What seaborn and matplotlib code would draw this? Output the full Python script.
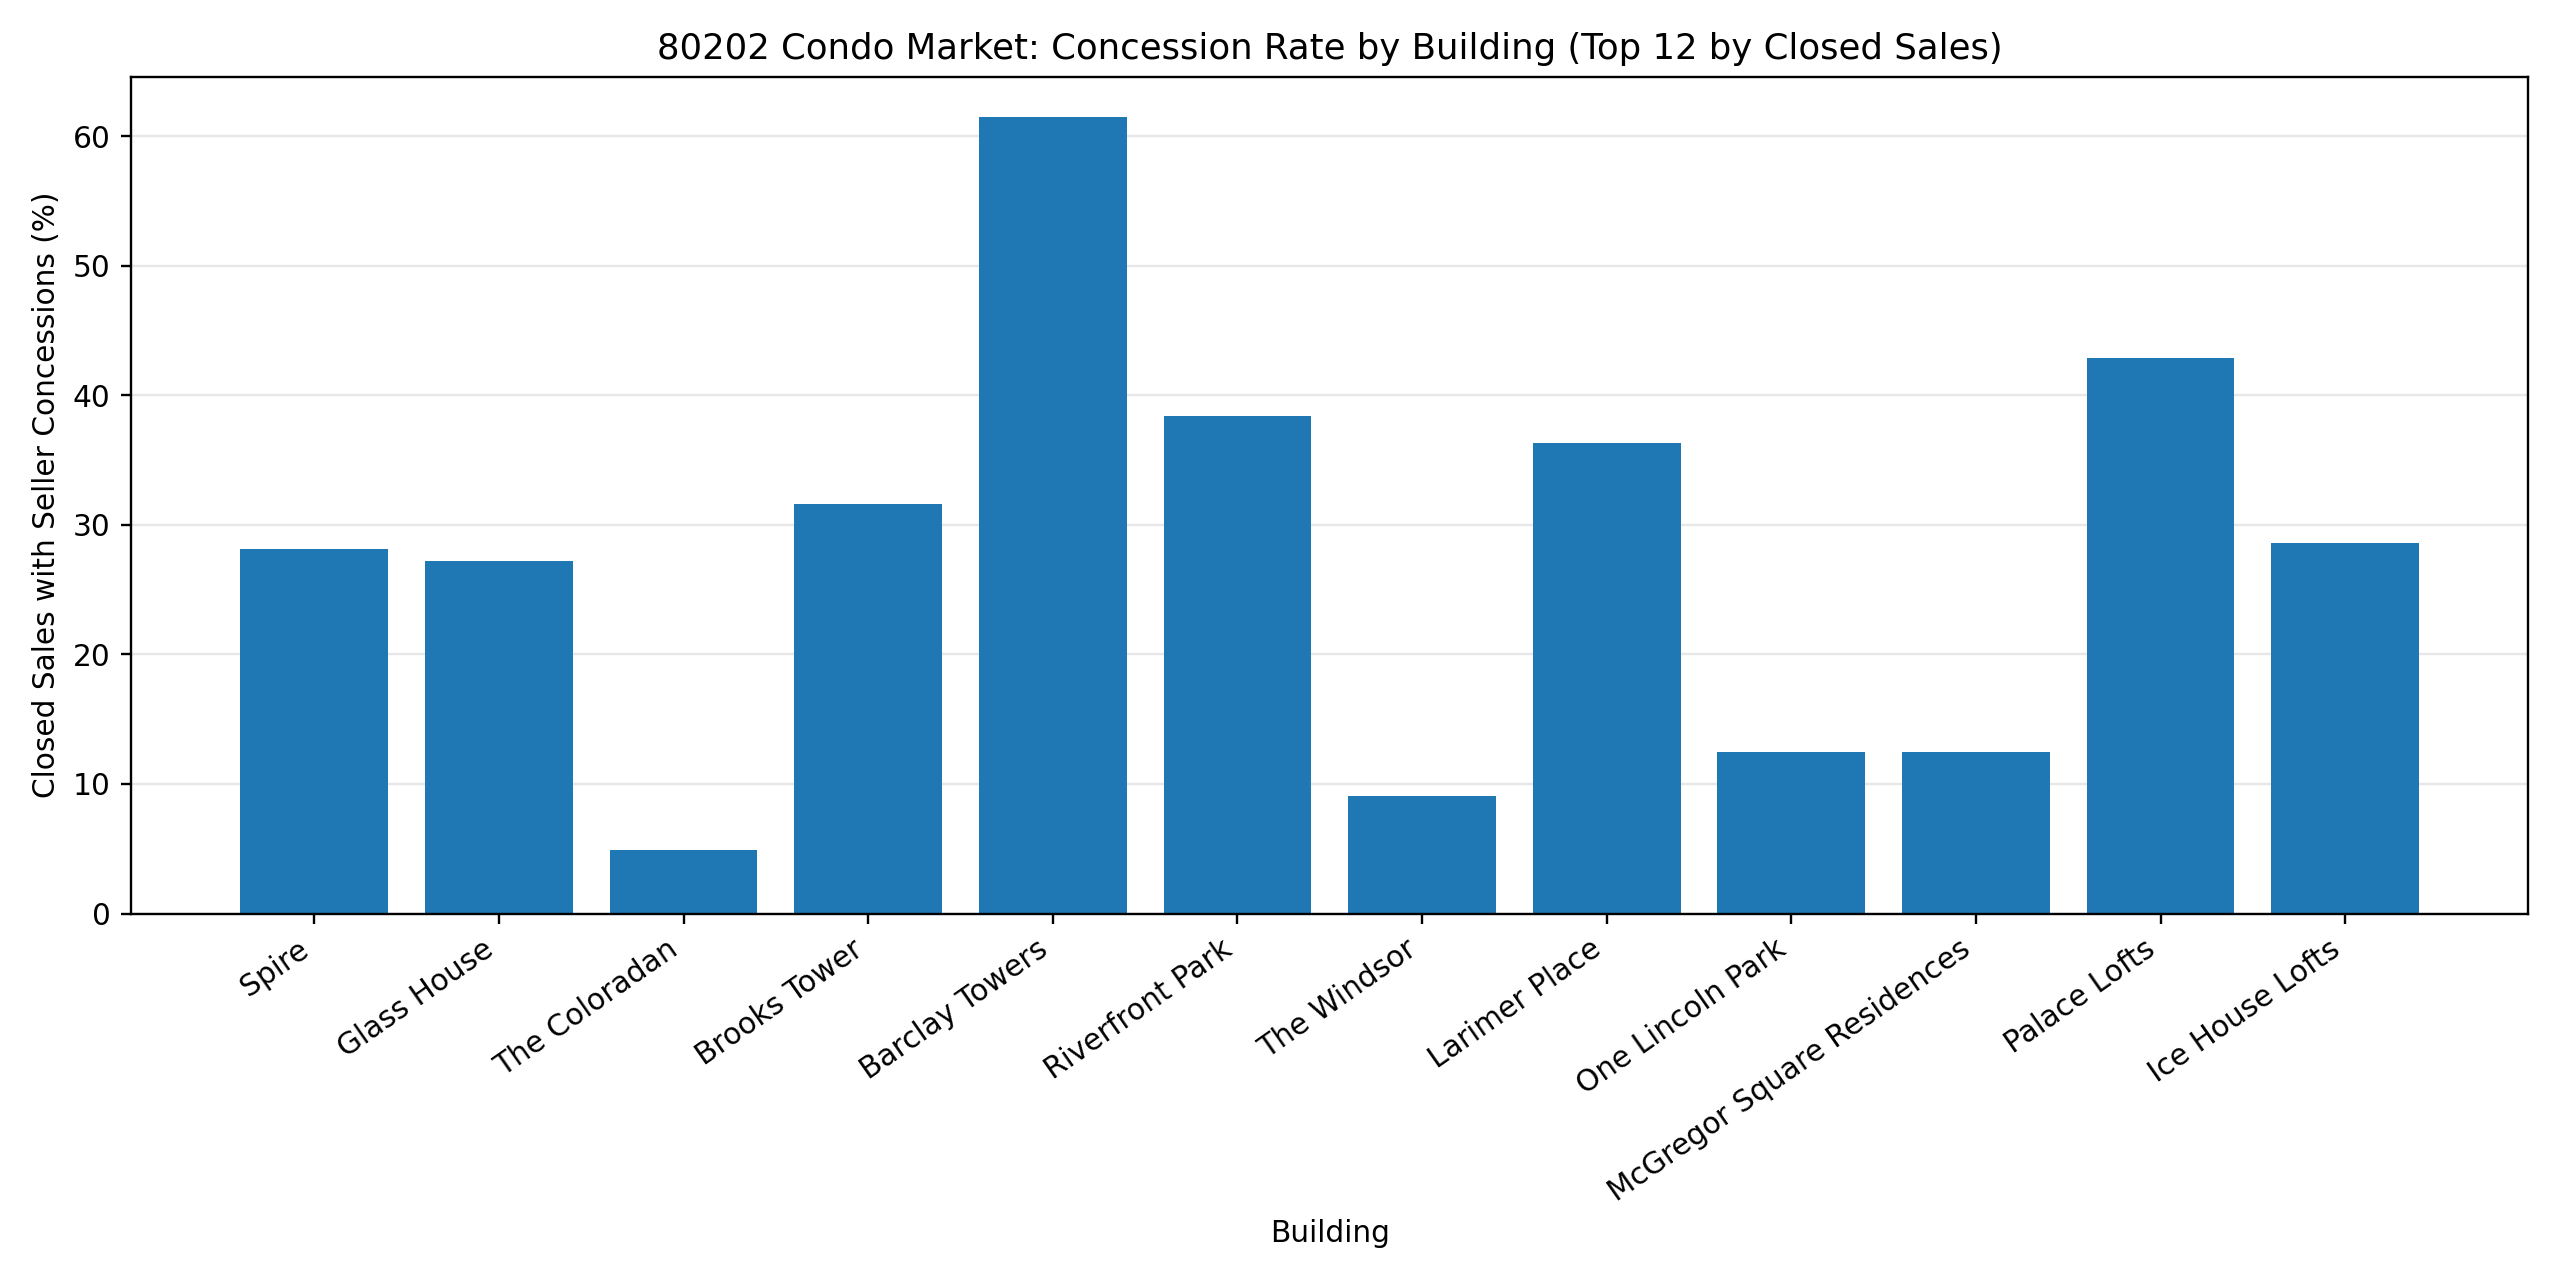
import matplotlib
matplotlib.use("Agg")
import matplotlib.pyplot as plt
import seaborn as sns
import pandas as pd

buildings = ["Spire", "Glass House", "The Coloradan", "Brooks Tower", "Barclay Towers",
             "Riverfront Park", "The Windsor", "Larimer Place", "One Lincoln Park",
             "McGregor Square Residences", "Palace Lofts", "Ice House Lofts"]
concession_pct = [28.1, 27.2, 4.9, 31.6, 61.5, 38.4, 9.1, 36.3, 12.5, 12.5, 42.9, 28.6]

df = pd.DataFrame({"Building": buildings, "Pct": concession_pct})

DPI = 2560 / 12
fig, ax = plt.subplots(figsize=(12, 6), dpi=DPI)
sns.barplot(data=df, x="Building", y="Pct", color="#1f77b4", saturation=1,
            width=0.8, ax=ax, zorder=2)
n = len(buildings)
span = (n - 1) + 0.8
ax.set_xlim(-0.4 - 0.05 * span, n - 1 + 0.4 + 0.05 * span)
ax.yaxis.grid(True, alpha=0.3, zorder=0)
ax.set_axisbelow(True)
ax.set_title("80202 Condo Market: Concession Rate by Building (Top 12 by Closed Sales)")
ax.set_xlabel("Building")
ax.set_ylabel("Closed Sales with Seller Concessions (%)")
plt.setp(ax.get_xticklabels(), rotation=35, ha="right")
fig.tight_layout()
fig.savefig("out.png", dpi=DPI)
